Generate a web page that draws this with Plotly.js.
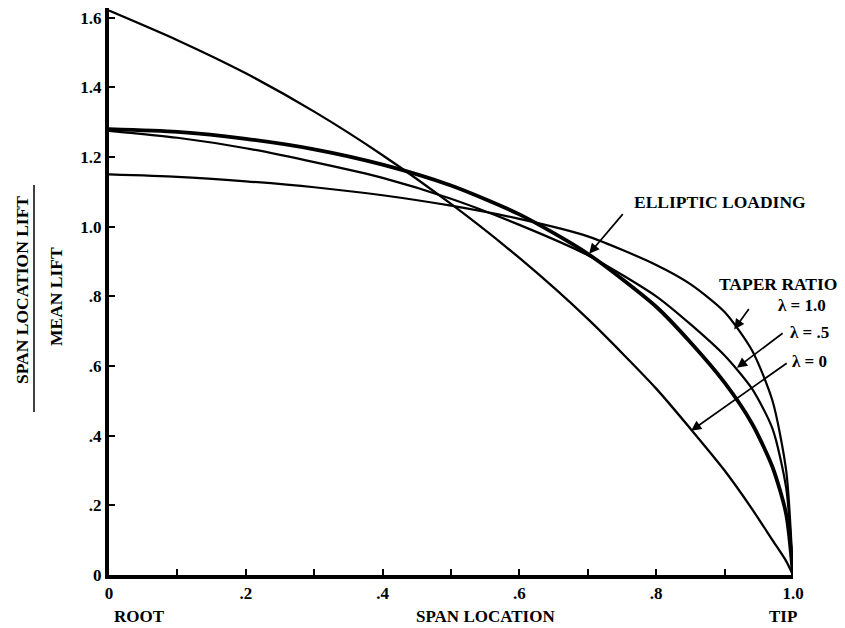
<!DOCTYPE html>
<html>
<head>
<meta charset="utf-8">
<script src="https://cdn.plot.ly/plotly-3.0.1.min.js"></script>
<style>html,body{margin:0;padding:0;background:#fff;}#chart{width:845px;height:628px;}</style>
</head>
<body>
<div id="chart"></div>
<script>
// Span locations (fraction of semispan)
const spanX = [0, 0.1, 0.2, 0.3, 0.4, 0.5, 0.6, 0.7, 0.8, 0.85, 0.9, 0.94, 0.97, 0.99, 1.0];
// Span location lift / mean lift
const taper0 =   [1.62, 1.535, 1.44, 1.33, 1.205, 1.065, 0.91, 0.735, 0.535, 0.42, 0.30, 0.19, 0.10, 0.04, 0];
const elliptic = [1.28, 1.272, 1.252, 1.222, 1.178, 1.118, 1.035, 0.922, 0.77, 0.668, 0.552, 0.435, 0.31, 0.175, 0];
const taper05 =  [1.275, 1.255, 1.225, 1.185, 1.14, 1.08, 1.005, 0.918, 0.80, 0.72, 0.63, 0.535, 0.42, 0.25, 0];
const taper1 =   [1.15, 1.143, 1.13, 1.113, 1.09, 1.06, 1.022, 0.972, 0.89, 0.835, 0.755, 0.645, 0.50, 0.30, 0];

const xTickVals = [0, 0.1, 0.2, 0.3, 0.4, 0.5, 0.6, 0.7, 0.8, 0.9, 1.0];
const xTickText = ["0", "", ".2", "", ".4", "", ".6", "", ".8", "", "1.0"];
const yTickVals = [0, 0.2, 0.4, 0.6, 0.8, 1.0, 1.2, 1.4, 1.6];
const yTickText = ["0", ".2", ".4", ".6", ".8", "1.0", "1.2", "1.4", "1.6"];

const FONT = "Liberation Serif, Times New Roman, serif";

function curve(y, w) {
  return {x: spanX, y: y, type: "scatter", mode: "lines",
          line: {color: "#000", width: w, shape: "spline", smoothing: 0.7},
          hoverinfo: "skip", showlegend: false};
}

const data = [
  curve(taper0, 2.3),
  curve(taper1, 2.2),
  curve(taper05, 2.2),
  curve(elliptic, 3.8)
];

function arrow(hx, hy, tx, ty) {
  return {x: hx, y: hy, xref: "x", yref: "y", ax: tx, ay: ty, axref: "x", ayref: "y",
          text: "", showarrow: true, arrowhead: 2, arrowsize: 1.2, arrowwidth: 1.7,
          arrowcolor: "#000", standoff: 0};
}
function label(text, x, y, xanchor, size, angle) {
  return {text: text, x: x, y: y, xref: "paper", yref: "paper",
          xanchor: xanchor || "center", yanchor: "middle", showarrow: false,
          textangle: angle || 0,
          font: {family: FONT, size: size || 17, color: "#000", weight: "bold"}};
}

// plot-area geometry in pixels, used to place the free text
const L = 109, T = 8, W = 684, H = 567;
const px = (p) => (p - L) / W;
const py = (p) => (T + H - p) / H;

const annotations = [
  arrow(0.702, 0.922, 0.753, 1.04),
  arrow(0.914, 0.705, 0.937, 0.768),
  arrow(0.918, 0.595, 0.987, 0.697),
  arrow(0.851, 0.414, 0.993, 0.611),
  label("ELLIPTIC LOADING", px(632), py(202), "left", 17.5),
  label("TAPER RATIO", px(717), py(284), "left", 17.5),
  label("λ = 1.0", px(776), py(305), "left"),
  label("λ = .5", px(788), py(332), "left"),
  label("λ = 0", px(790), py(361), "left"),
  label("ROOT", px(112), py(617), "left"),
  label("SPAN LOCATION", px(485), py(617), "center"),
  label("TIP", px(783), py(617), "center"),
  label("SPAN LOCATION LIFT", px(22), py(290), "center", 17.5, -90),
  label("MEAN LIFT", px(56), py(297), "center", 17.5, -90)
];

const layout = {
  width: 845, height: 628,
  margin: {l: L, r: 845 - L - W, t: T, b: 628 - T - H, pad: 0},
  paper_bgcolor: "#fff", plot_bgcolor: "#fff",
  showlegend: false,
  xaxis: {range: [0, 1.0], showgrid: false, zeroline: false, showline: true,
          linecolor: "#000", linewidth: 3.5, ticks: "inside", ticklen: 6, tickwidth: 2,
          tickcolor: "#000", tickvals: xTickVals, ticktext: xTickText,
          tickfont: {family: FONT, size: 17, color: "#000", weight: "bold"}},
  yaxis: {range: [0, H / 348.4], showgrid: false, zeroline: false, showline: true,
          linecolor: "#000", linewidth: 4, ticks: "inside", ticklen: 6, tickwidth: 2,
          tickcolor: "#000", tickvals: yTickVals, ticktext: yTickText,
          tickfont: {family: FONT, size: 17, color: "#000", weight: "bold"}},
  annotations: annotations,
  shapes: [{type: "line", xref: "paper", yref: "paper", x0: px(34), x1: px(34),
            y0: py(185), y1: py(412), line: {color: "#000", width: 1.5}}]
};

Plotly.newPlot("chart", data, layout, {displayModeBar: false, staticPlot: true});
</script>
</body>
</html>
